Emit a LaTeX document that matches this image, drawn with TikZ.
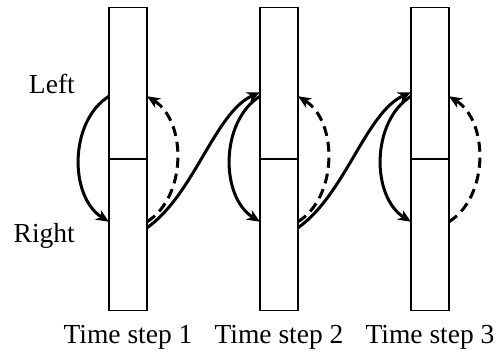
\documentclass[tikz,border=0pt]{standalone}
\usepackage{fontspec}
\setmainfont{Liberation Serif}
\usetikzlibrary{arrows.meta}
\begin{document}
\begin{tikzpicture}[x=1pt,y=-1pt,
  half/.style={draw,line width=1.5pt,minimum width=38pt,minimum height=151.5pt,inner sep=0pt,outer sep=0pt},
  conn/.style={line width=3pt,-{Stealth[length=13pt,width=11pt,inset=4pt]}},
  back/.style={conn,dash pattern=on 10pt off 6pt},
  lbl/.style={font=\fontsize{27.5}{33}\selectfont,inner sep=0pt}]
\useasboundingbox (0,0) rectangle (497,354);

% three time steps, each an upper and a lower half
\foreach \i/\x in {1/128,2/279,3/430}{
  \node[half] (u\i) at (\x,83.25) {};
  \node[half] (l\i) at (\x,234.75) {};
  \node[lbl,anchor=base] (t\i) at (\x,343) {Time step \i};
}

\node[lbl,anchor=base east] (left) at (75,93) {Left};
\node[lbl,anchor=base east] (right) at (75,242) {Right};

% transitions within each step
\foreach \i in {1,2,3}{
  \draw[conn] ([yshift=-13pt]u\i.west) .. controls +(-40,25) and +(-40,-25) .. ([yshift=13pt]l\i.west);
  \draw[back] ([yshift=13pt]l\i.east) .. controls +(40,-25) and +(40,25) .. ([yshift=-13pt]u\i.east);
}

% transitions to the next step
\foreach \i/\j in {1/2,2/3}{
  \draw[conn] ([yshift=7pt]l\i.east) .. controls +(47,-33) and +(-45,20) .. ([yshift=-9pt]u\j.west);
}
\end{tikzpicture}
\end{document}
